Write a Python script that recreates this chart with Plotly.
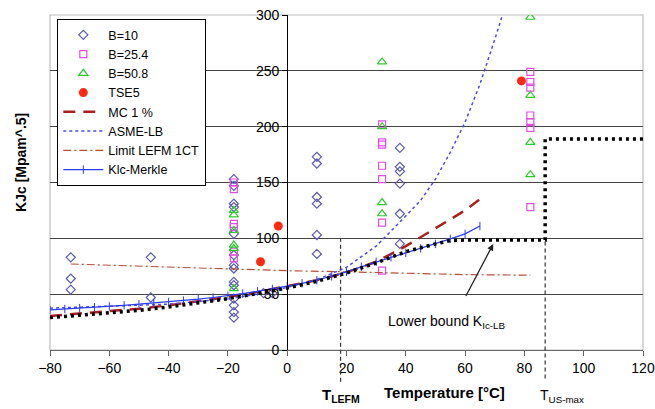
import plotly.graph_objects as go

# ---------------- data ----------------
b10_T = [-73, -73, -73, -46, -46,
         -18, -18, -18, -18, -18, -18, -18, -18, -18, -18, -18, -18, -18, -18,
         -8, -5,
         10, 10, 10, 10, 10, 10,
         38, 38, 38, 38, 38, 38]
b10_K = [83, 64, 54, 83, 47,
         153, 147, 131, 128, 104, 85, 76, 73, 61, 58, 46, 40, 34, 29,
         51, 51,
         173, 167, 137, 131, 103, 86,
         181, 164, 160, 149, 122, 95]

b25_T = [-18, -18, -18, -18, -18, -18,
         32, 32, 32, 32, 32, 32, 32,
         82, 82, 82, 82, 82, 82, 82]
b25_K = [150, 144, 113, 110, 88, 82,
         202, 186, 184, 165, 153, 114, 71,
         249, 240, 235, 210, 204, 199, 128]

b50_T = [-18, -18, -18, -18, -18, -18,
         32, 32, 32, 32,
         82, 82, 82, 82]
b50_K = [125, 121, 107, 94, 91, 55,
         258, 200, 132, 122,
         298, 228, 186, 157]

tse5_T = [-9, -3, 79]
tse5_K = [79, 111, 241]

mc_T = [-80, -70, -60, -50, -40, -30, -20, -10, 0, 10, 20, 30, 40, 50, 60, 65]
mc_K = [30.5, 32.5, 34.5, 37, 40, 43.5, 47.5, 52, 57, 62.5, 69.5, 79, 93, 109, 125, 135]

asme_T = [-80, -60, -40, -20, -10, 0, 10, 20, 30, 40, 45, 50, 55, 60, 65, 70, 72.6]
asme_K = [37.5, 39, 41, 46, 50, 56, 63, 74, 93, 120, 134, 153, 177, 204, 238, 278, 300]

lefm_T = [-73, -50, -20, 0, 20, 40, 60, 82]
lefm_K = [77, 75, 73, 71, 70, 68.5, 67.5, 67]

merkle_T = [-80, -75, -70, -65, -60, -55, -50, -45, -40, -35, -30, -25, -20, -15, -10, -5,
            0, 5, 10, 15, 20, 25, 30, 35, 40, 45, 50, 55, 60, 65]
merkle_K = [36, 36.7, 37.5, 38.2, 39, 40, 41, 42, 43, 44.2, 45.5, 47, 48.5, 50.5, 52.5, 54.7,
            57, 59.7, 62.5, 66, 70, 74.5, 79, 83, 87, 91, 95, 99.5, 104, 111]

lb_T = [-80, -70, -60, -50, -40, -30, -20, -10, 0, 10, 20, 30, 40, 50, 55, 60, 87, 87, 120]
lb_K = [29, 31, 33, 35.5, 38.5, 42, 46, 50.5, 55.5, 61.5, 69, 78, 88, 95, 98, 98.5, 98.5, 189, 189]

T_LEFM = 18
T_US_MAX = 87
X_RANGE = [-80, 120]
Y_RANGE = [0, 300]
x_ticks = [-80, -60, -40, -20, 0, 20, 40, 60, 80, 100, 120]
y_ticks = [0, 50, 100, 150, 200, 250, 300]

FONT = "Liberation Sans, Arial, sans-serif"

# ---------------- figure ----------------
fig = go.Figure()

fig.add_trace(go.Scatter(x=b10_T, y=b10_K, mode="markers", name="B=10",
                         marker=dict(symbol="diamond-open", size=7, color="#5c5cb0",
                                     line=dict(width=1.2))))
fig.add_trace(go.Scatter(x=b25_T, y=b25_K, mode="markers", name="B=25.4",
                         marker=dict(symbol="square-open", size=7, color="#e050e0",
                                     line=dict(width=1.2))))
fig.add_trace(go.Scatter(x=b50_T, y=b50_K, mode="markers", name="B=50.8",
                         marker=dict(symbol="triangle-up-open", size=8, color="#30c830",
                                     line=dict(width=1.2))))
fig.add_trace(go.Scatter(x=tse5_T, y=tse5_K, mode="markers", name="TSE5",
                         marker=dict(symbol="circle", size=9, color="#ff2a10")))
fig.add_trace(go.Scatter(x=mc_T, y=mc_K, mode="lines", name="MC 1 %",
                         line=dict(color="#a82020", width=2.5, dash="12px,8px")))
fig.add_trace(go.Scatter(x=asme_T, y=asme_K, mode="lines", name="ASME-LB",
                         line=dict(color="#4a4ae8", width=1.5, dash="3px,3px")))
fig.add_trace(go.Scatter(x=lefm_T, y=lefm_K, mode="lines", name="Limit LEFM 1CT",
                         line=dict(color="#b4503a", width=1.2, dash="8px,3px,2px,3px")))
fig.add_trace(go.Scatter(x=merkle_T, y=merkle_K, mode="lines+markers", name="Klc-Merkle",
                         line=dict(color="#2a3cee", width=1.2),
                         marker=dict(symbol="line-ns-open", size=6, color="#2a3cee",
                                     line=dict(width=1, color="#2a3cee"))))
fig.add_trace(go.Scatter(x=lb_T, y=lb_K, mode="lines", name="Lower bound",
                         showlegend=False,
                         line=dict(color="black", width=3.5, dash="3px,4px")))

# frame of the plot area
fig.add_shape(type="rect", xref="paper", yref="paper", x0=0, x1=1, y0=0, y1=1,
              line=dict(color="#bdbdbd", width=1.2), layer="below")

# vertical dashed markers for T_LEFM and T_US-max (extend below the axis)
y_per = 1.0 / (Y_RANGE[1] - Y_RANGE[0])
fig.add_shape(type="line", xref="x", yref="paper", x0=T_LEFM, x1=T_LEFM,
              y0=-0.095, y1=100 * y_per, line=dict(color="#333", width=1.2, dash="4px,3px"))
fig.add_shape(type="line", xref="x", yref="paper", x0=T_US_MAX, x1=T_US_MAX,
              y0=-0.085, y1=98.5 * y_per, line=dict(color="#333", width=1.2, dash="4px,3px"))

# annotations
fig.add_annotation(x=54, y=25, xref="x", yref="y", showarrow=False,
                   text="Lower bound K<sub>Ic-LB</sub>",
                   font=dict(family=FONT, size=14, color="black"))
fig.add_annotation(x=69.5, y=95, ax=60, ay=47, xref="x", yref="y", axref="x", ayref="y",
                   showarrow=True, arrowhead=2, arrowsize=1, arrowwidth=1.3,
                   arrowcolor="#222", text="")
fig.add_annotation(x=(T_LEFM + 80) / 200, y=-0.135, xref="paper", yref="paper",
                   showarrow=False, xanchor="center", yanchor="middle",
                   text="<b>T<sub>LEFM</sub></b>",
                   font=dict(family=FONT, size=15, color="black"))
fig.add_annotation(x=0.666, y=-0.128, xref="paper", yref="paper", showarrow=False,
                   xanchor="center", yanchor="middle", text="<b>Temperature [°C]</b>",
                   font=dict(family=FONT, size=15, color="black"))
fig.add_annotation(x=0.8635, y=-0.138, xref="paper", yref="paper", showarrow=False,
                   xanchor="center", yanchor="middle", text="T<sub>US-max</sub>",
                   font=dict(family=FONT, size=14, color="black"))
fig.add_annotation(x=-0.048, y=0.56, xref="paper", yref="paper", showarrow=False,
                   xanchor="center", yanchor="middle",
                   textangle=-90, text="<b>KJc [Mpam^.5]</b>",
                   font=dict(family=FONT, size=14, color="black"))

fig.update_layout(
    width=655, height=409,
    margin=dict(l=50, r=12, t=15, b=59, autoexpand=False),
    paper_bgcolor="white", plot_bgcolor="white",
    font=dict(family=FONT, size=14, color="black"),
    showlegend=True,
    legend=dict(x=0.012, y=0.988, xanchor="left", yanchor="top",
                bgcolor="white", bordercolor="black", borderwidth=1.2,
                font=dict(family=FONT, size=12.5, color="black"),
                itemwidth=40, tracegroupgap=0),
    xaxis=dict(range=X_RANGE, tickvals=x_ticks, showgrid=False, zeroline=False,
               automargin=False, ticklabeloverflow="allow",
               showline=True, linecolor="#666", linewidth=1.2,
               ticks="outside", ticklen=5, tickcolor="#666",
               tickfont=dict(family=FONT, size=14, color="black")),
    yaxis=dict(range=Y_RANGE, tickvals=y_ticks, showgrid=True, gridcolor="#444",
               gridwidth=1, zeroline=False, anchor="free", automargin=False,
               ticklabeloverflow="allow",
               position=(0 - X_RANGE[0]) / (X_RANGE[1] - X_RANGE[0]),
               showline=True, linecolor="black", linewidth=1.2,
               ticks="outside", ticklen=5, tickcolor="black",
               tickfont=dict(family=FONT, size=14, color="black")),
)

# remove the default page margin so the 655x409 figure fills the window exactly
fig.write_html("out.html",
               config={"displayModeBar": False},
               post_script="document.body.style.margin='0px';"
                           "document.body.style.overflow='hidden';")
